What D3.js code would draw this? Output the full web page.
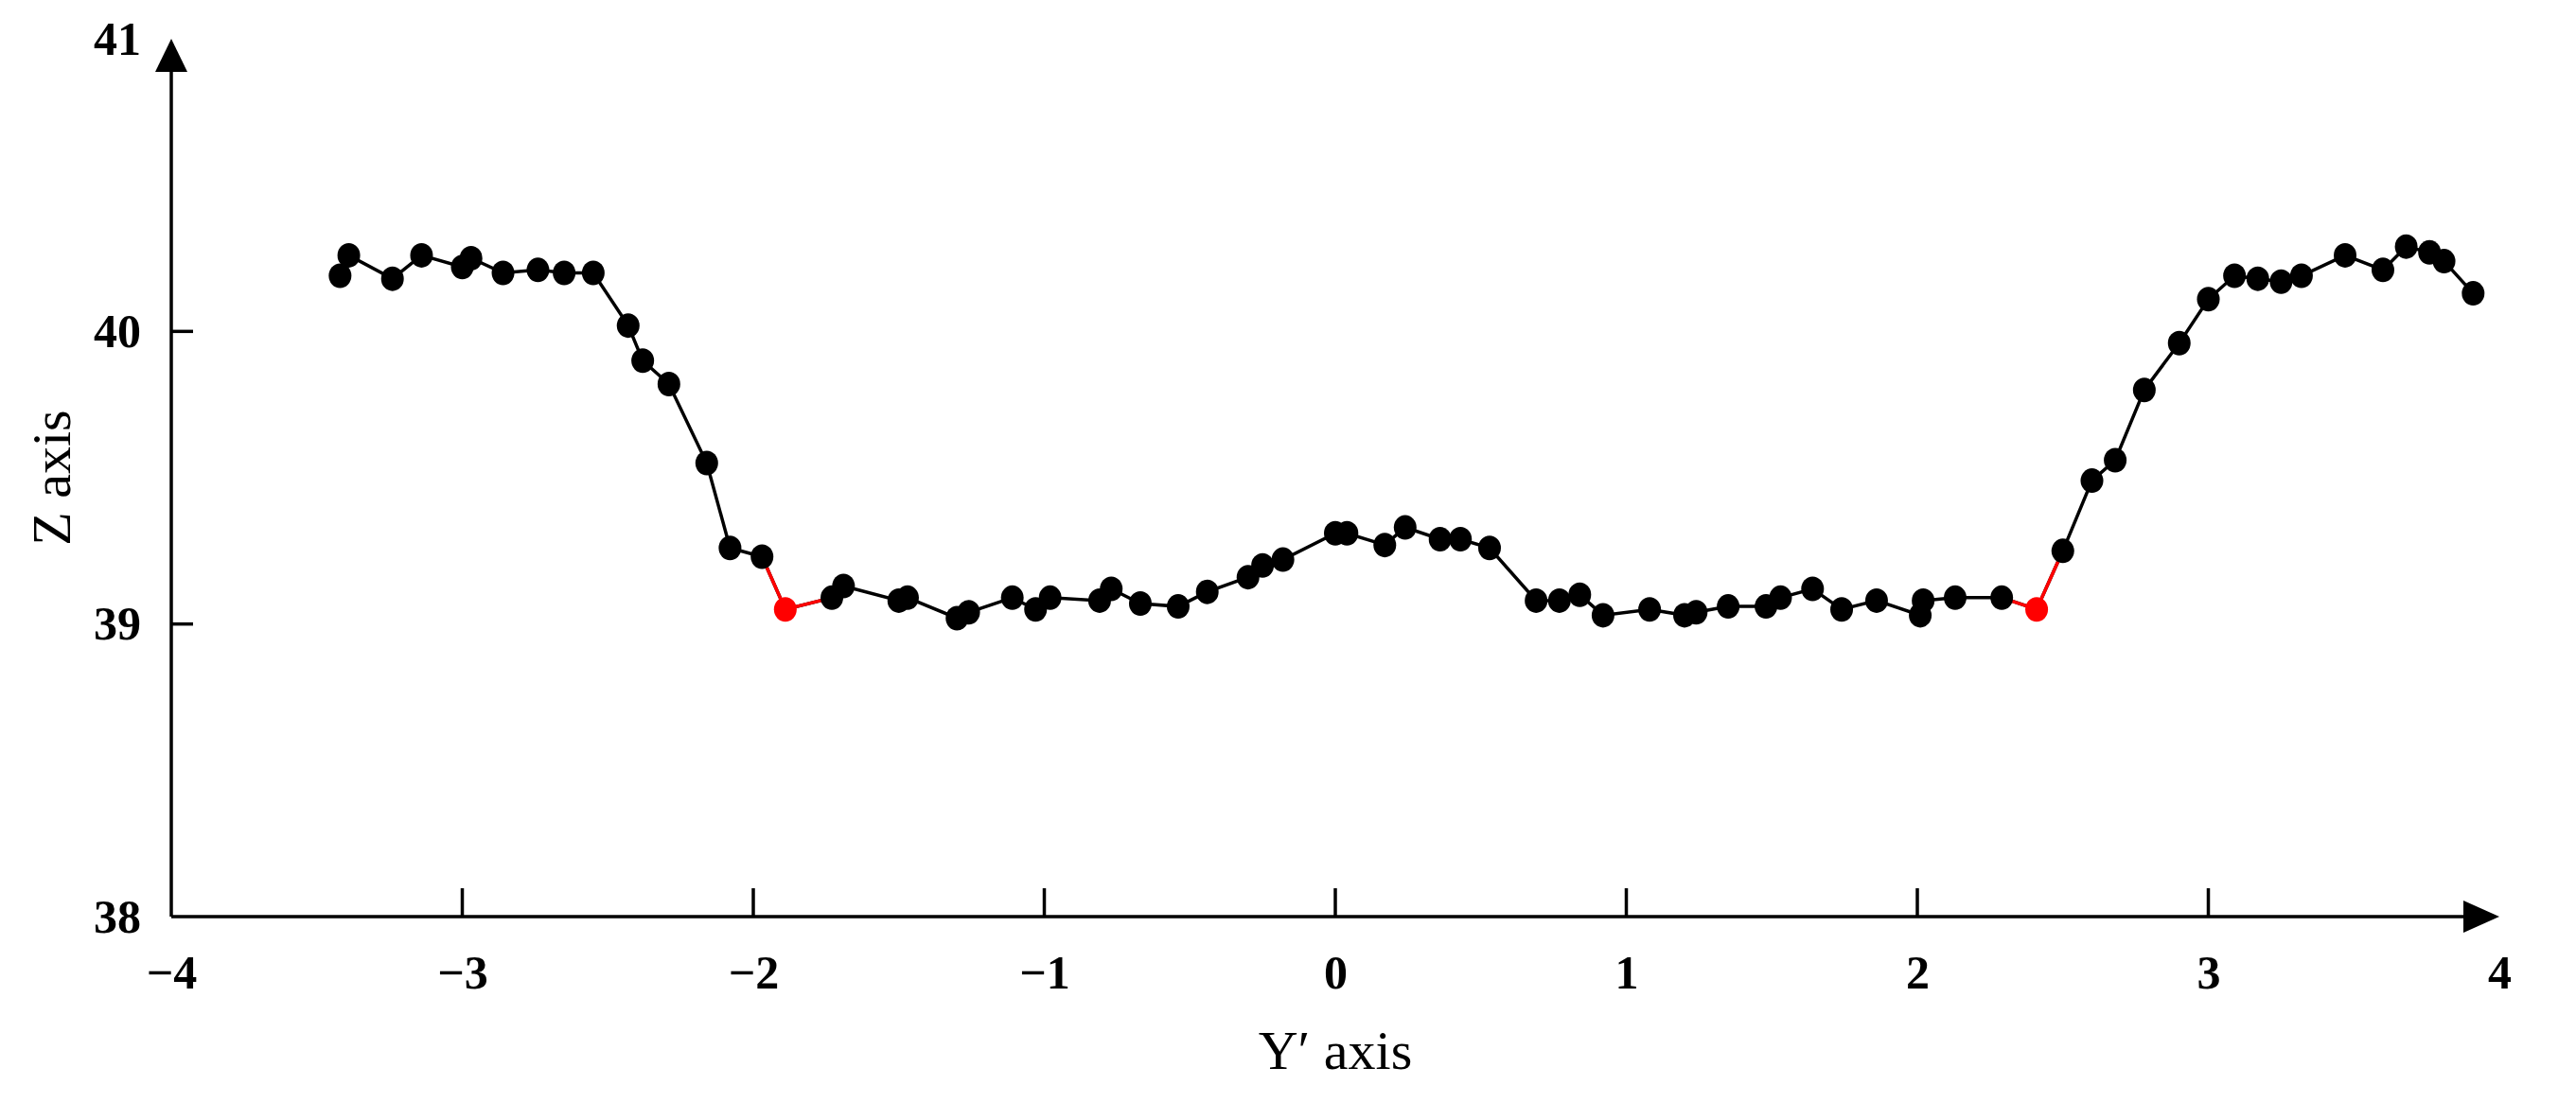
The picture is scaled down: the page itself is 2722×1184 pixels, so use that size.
<!DOCTYPE html>
<meta charset="utf-8">
<style>
body { margin: 0; background: #fff; }
.tick text { font-family: "Liberation Serif", serif; font-weight: bold; font-size: 50px; }
.title { font-family: "Liberation Serif", serif; font-size: 58px; }
</style>
<svg width="2722" height="1184"></svg>
<script src="https://d3js.org/d3.v7.min.js"></script>
<script>
var yPrime = [-3.42,-3.39,-3.24,-3.14,-3.00,-2.97,-2.86,-2.74,-2.65,-2.55,-2.43,-2.38,-2.29,-2.16,-2.08,-1.97,-1.89,-1.73,-1.69,
  -1.50,-1.47,-1.30,-1.26,-1.11,-1.03,-0.98,-0.81,-0.77,-0.67,-0.54,-0.44,-0.30,-0.25,-0.18,0.00,0.04,0.17,0.24,0.36,0.43,0.53,
  0.69,0.77,0.84,0.92,1.08,1.20,1.24,1.35,1.48,1.53,1.64,1.74,1.86,2.01,2.02,2.13,2.29,2.41,2.50,2.60,2.68,2.78,2.90,3.00,
  3.09,3.17,3.25,3.32,3.47,3.60,3.68,3.76,3.81,3.91];
var zVals = [40.19,40.26,40.18,40.26,40.22,40.25,40.20,40.21,40.20,40.20,40.02,39.90,39.82,39.55,39.26,39.23,39.05,39.09,39.13,
  39.08,39.09,39.02,39.04,39.09,39.05,39.09,39.08,39.12,39.07,39.06,39.11,39.16,39.20,39.22,39.31,39.31,39.27,39.33,39.29,39.29,39.26,
  39.08,39.08,39.10,39.03,39.05,39.03,39.04,39.06,39.06,39.09,39.12,39.05,39.08,39.03,39.08,39.09,39.09,39.05,39.25,39.49,39.56,39.80,39.96,40.11,
  40.19,40.18,40.17,40.19,40.26,40.21,40.29,40.27,40.24,40.13];
var redIdx = [16, 58];
var xTicks = [-4,-3,-2,-1,0,1,2,3,4];
var yTicks = [38,39,40,41];

var data = yPrime.map(function(v, i) { return {y: v, z: zVals[i], red: redIdx.indexOf(i) >= 0}; });
var svg = d3.select("svg");
var x = d3.scaleLinear().domain([-4, 4]).range([181, 2641]);
var y = d3.scaleLinear().domain([38, 41]).range([969, 41]);

// axes
svg.append("g").attr("transform", "translate(0,969)")
  .call(d3.axisBottom(x).tickValues(xTicks).tickSize(0).tickPadding(40).tickFormat(function(d) { return d < 0 ? "\u2212" + (-d) : d; }))
  .call(function(g) { g.select(".domain").remove(); });
svg.append("g").attr("transform", "translate(181,0)")
  .call(d3.axisLeft(y).tickValues(yTicks).tickSize(0).tickPadding(32).tickFormat(d3.format("d")))
  .call(function(g) { g.select(".domain").remove(); });
svg.append("line").attr("x1", 181).attr("x2", 2615).attr("y1", 969).attr("y2", 969).attr("stroke", "#000").attr("stroke-width", 3.5);
svg.append("line").attr("x1", 181).attr("x2", 181).attr("y1", 969).attr("y2", 70).attr("stroke", "#000").attr("stroke-width", 3.5);
svg.append("path").attr("d", "M2641,969 L2603,952 L2603,986 Z");
svg.append("path").attr("d", "M181,41 L164,76 L198,76 Z");
svg.selectAll(".xt").data(xTicks.slice(1, -1)).enter().append("line")
  .attr("x1", function(d) { return x(d); }).attr("x2", function(d) { return x(d); })
  .attr("y1", 969).attr("y2", 939).attr("stroke", "#000").attr("stroke-width", 3.5);
svg.selectAll(".yt").data(yTicks.slice(1, -1)).enter().append("line")
  .attr("x1", 181).attr("x2", 204)
  .attr("y1", function(d) { return y(d); }).attr("y2", function(d) { return y(d); })
  .attr("stroke", "#000").attr("stroke-width", 3.5);

svg.append("text").attr("class", "title").attr("x", x(0)).attr("y", 1130).attr("text-anchor", "middle").text("Y\u2032 axis");
svg.append("text").attr("class", "title").attr("transform", "translate(74,505) rotate(-90)").attr("text-anchor", "middle").text("Z axis");

// line
var line = d3.line().x(function(d) { return x(d.y); }).y(function(d) { return y(d.z); });
svg.append("path").datum(data).attr("fill", "none").attr("stroke", "#000").attr("stroke-width", 3.5).attr("d", line);
redIdx.forEach(function(i) {
  svg.append("path").datum(data.slice(i - 1, i + 2)).attr("fill", "none").attr("stroke", "red").attr("stroke-width", 3.5).attr("d", line);
});
svg.selectAll("ellipse").data(data).enter().append("ellipse")
  .attr("cx", function(d) { return x(d.y); })
  .attr("cy", function(d) { return y(d.z); })
  .attr("rx", 12).attr("ry", 13)
  .attr("fill", function(d) { return d.red ? "red" : "#000"; });
</script>
